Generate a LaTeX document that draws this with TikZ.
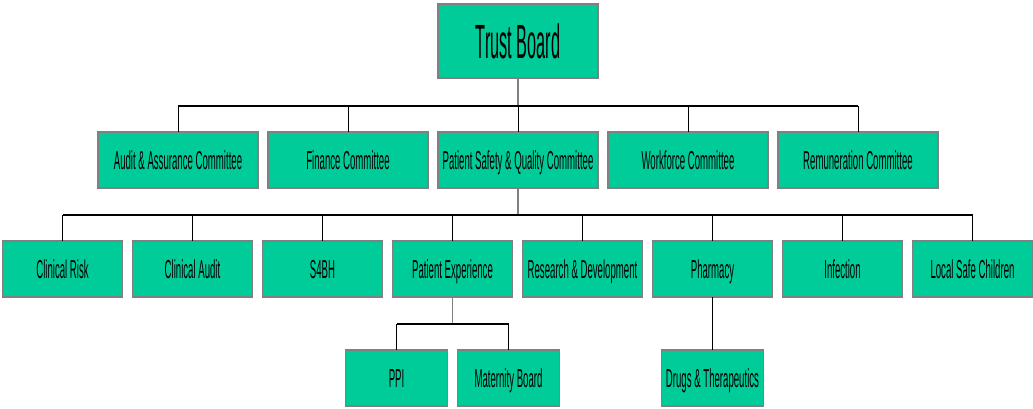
\documentclass[tikz,border=0pt]{standalone}
\usepackage{fontspec}
\usepackage{xcolor}
\usepackage{tikz}
\usetikzlibrary{positioning}
\newfontfamily\orgfont{Liberation Sans}[FakeStretch=0.37]
\newfontfamily\topfont{Liberation Sans}[FakeStretch=0.34]
\definecolor{boardgreen}{RGB}{0,204,153}
\definecolor{boxedge}{RGB}{128,128,128}
\tikzstyle{board} = [rectangle, minimum width=160pt, minimum height=74pt, inner sep=0pt, outer sep=0pt, text centered, text height=34.5pt, text depth=0pt, draw=boxedge, line width=1.5pt, fill=boardgreen, font=\topfont\fontsize{48}{48}\selectfont]
\tikzstyle{committee} = [rectangle, minimum width=160pt, minimum height=56pt, inner sep=0pt, outer sep=0pt, text centered, text height=18.7pt, text depth=0pt, draw=boxedge, line width=1.5pt, fill=boardgreen, font=\orgfont\fontsize{26}{26}\selectfont]
\tikzstyle{group} = [committee, minimum width=120pt]
\tikzstyle{subgroup} = [committee, minimum width=102pt]
\tikzstyle{bus} = [line width=2pt, black]
\tikzstyle{stem} = [line width=1.5pt, boxedge]
\tikzstyle{drop} = [line width=0.9pt, black]

\begin{document}
\begin{tikzpicture}[x=1pt, y=1pt, node distance=10pt]
    \useasboundingbox (0,0) rectangle (1033,-408);

    % top
    \node (tb) [board] at (518,-41) {Trust Board};

    % committees
    \node (psq) [committee] at (518,-160) {Patient Safety \& Quality Committee};
    \node (finance) [committee, left=of psq] {Finance Committee};
    \node (audit) [committee, left=of finance] {Audit \& Assurance Committee};
    \node (workforce) [committee, right=of psq] {Workforce Committee};
    \node (remun) [committee, right=of workforce] {Remuneration Committee};

    % groups under patient safety
    \node (risk) [group] at (62.5,-269) {Clinical Risk};
    \node (caudit) [group, right=of risk] {Clinical Audit};
    \node (sfbh) [group, right=of caudit] {S4BH};
    \node (patexp) [group, right=of sfbh] {Patient Experience};
    \node (rnd) [group, right=of patexp] {Research \& Development};
    \node (pharm) [group, right=of rnd] {Pharmacy};
    \node (infect) [group, right=of pharm] {Infection};
    \node (safechild) [group, right=of infect] {Local Safe Children};

    % bottom row
    \node (ppi) [subgroup] at (396.5,-378) {PPI};
    \node (maternity) [subgroup, right=of ppi] {Maternity Board};
    \node (drugs) [subgroup] at (pharm |- ppi) {Drugs \& Therapeutics};

    % connectors
    \coordinate (bus1) at (0,-106);
    \coordinate (bus2) at (0,-215);
    \coordinate (bus3) at (0,-324);

    \draw [stem] (tb) -- (tb |- bus1);
    \draw [bus] (audit |- bus1) -- (remun |- bus1);
    \foreach \n in {audit, finance, psq, workforce, remun}
        \draw [drop] (\n |- bus1) -- (\n);

    \draw [stem] (psq) -- (psq |- bus2);
    \draw [bus] (risk |- bus2) -- (safechild |- bus2);
    \foreach \n in {risk, caudit, sfbh, patexp, rnd, pharm, infect, safechild}
        \draw [drop] (\n |- bus2) -- (\n);

    \draw [stem] (patexp) -- (patexp |- bus3);
    \draw [bus] (ppi |- bus3) -- (maternity |- bus3);
    \draw [drop] (ppi |- bus3) -- (ppi);
    \draw [drop] (maternity |- bus3) -- (maternity);

    \draw [drop] (pharm) -- (drugs);
\end{tikzpicture}
\end{document}
